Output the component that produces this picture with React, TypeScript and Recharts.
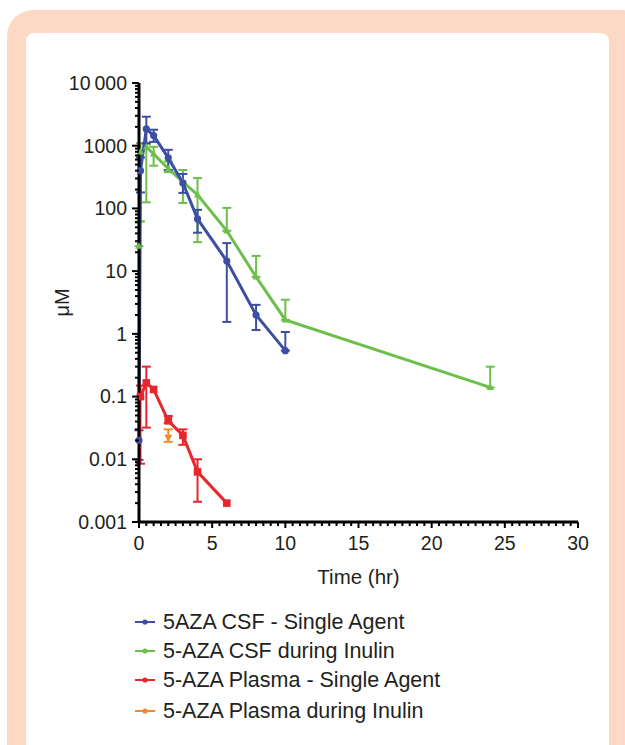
import React from 'react';
import { LineChart, Line, XAxis, YAxis, ErrorBar, Label } from 'recharts';

// time points (hr), values (µM), lower / upper error limits (null = no bar)
const blueT = [0, 0.1, 0.5, 1, 2, 3, 4, 6, 8, 10];
const blueY = [0.02, 400, 1850, 1450, 640, 255, 68, 14.5, 2.0, 0.54];
const blueLo = [0.0098, 180, 1100, 1150, 410, 177, 41, 1.55, 1.15, 0.54];
const blueHi = [0.029, 650, 2900, 1800, 860, 355, 95, 28, 2.9, 1.07];

const greenT = [0, 0.1, 0.5, 1, 2, 3, 4, 6, 8, 10, 24];
const greenY = [25, 800, 950, 740, 430, 265, 165, 44, 8.1, 1.67, 0.14];
const greenLo = [25, 62, 125, 480, 380, 122, 29, 44, 8.1, 1.67, 0.14];
const greenHi = [62, 1100, 1050, 960, 560, 410, 305, 102, 17.5, 3.5, 0.3];

const redT = [0.1, 0.5, 1, 2, 3, 4, 6];
const redY = [0.1, 0.165, 0.13, 0.041, 0.024, 0.0063, 0.002];
const redLo = [0.0085, 0.032, null, 0.038, 0.017, 0.0021, null];
const redHi = [0.15, 0.3, null, 0.049, 0.03, 0.01, null];

const orangeT = [2];
const orangeY = [0.022];
const orangeLo = [0.019];
const orangeHi = [0.03];

const xMajorTicks = [0, 5, 10, 15, 20, 25, 30];
const yMajorTicks = [0.001, 0.01, 0.1, 1, 10, 100, 1000, 10000];
const yTickLabels = ['0.001', '0.01', '0.1', '1', '10', '100', '1000', '10\u2009000'];

const seriesNames = [
  '5AZA CSF - Single Agent',
  '5-AZA CSF during Inulin',
  '5-AZA Plasma - Single Agent',
  '5-AZA Plasma during Inulin',
];

const BLUE = '#3d4fa3';
const GREEN = '#6dbf4b';
const RED = '#e8262b';
const ORANGE = '#f0892c';
const FONT = '"Liberation Sans", Arial, Helvetica, sans-serif';
const TEXT = '#231f20';

const build = (t: number[], y: number[], lo: (number | null)[], hi: (number | null)[]) =>
  t.map((tt, i) => ({
    t: tt,
    v: y[i],
    err: lo[i] == null || hi[i] == null ? null : [y[i] - (lo[i] as number), (hi[i] as number) - y[i]],
  }));

const blueData = build(blueT, blueY, blueLo, blueHi);
const greenData = build(greenT, greenY, greenLo, greenHi);
const redData = build(redT, redY, redLo, redHi);
const orangeData = build(orangeT, orangeY, orangeLo, orangeHi);

// minor ticks
const xTicks: number[] = [];
for (let i = 0; i <= 60; i++) xTicks.push(i / 2);
const yTicks: number[] = [];
yMajorTicks.forEach((m, k) => {
  yTicks.push(m);
  if (k < yMajorTicks.length - 1) for (let j = 2; j <= 9; j++) yTicks.push(m * j);
});

const isMajorY = (v: number) => {
  const l = Math.log10(v);
  return Math.abs(l - Math.round(l)) < 1e-9;
};

const YTick = ({ x, y, payload }: any) => {
  const v = payload.value;
  const major = isMajorY(v);
  const idx = major ? Math.round(Math.log10(v)) + 3 : -1;
  return (
    <g>
      <line x1={x} x2={x - (major ? 7 : 4)} y1={y} y2={y} stroke="#000" strokeWidth={2} />
      {major && (
        <text x={x - 12} y={y} dy="0.35em" textAnchor="end" fontSize={19.5} fontFamily={FONT} fill={TEXT}>
          {yTickLabels[idx]}
        </text>
      )}
    </g>
  );
};

const XTick = ({ x, y, payload }: any) => {
  const v = payload.value;
  const major = xMajorTicks.includes(v);
  return (
    <g>
      <line x1={x} x2={x} y1={y} y2={y + (major ? 6 : 4)} stroke="#000" strokeWidth={2} />
      {major && (
        <text x={x} y={y + 21} dy="0.35em" textAnchor="middle" fontSize={19.5} fontFamily={FONT} fill={TEXT}>
          {v}
        </text>
      )}
    </g>
  );
};

const Circle = (color: string) => (p: any) => (
  <circle key={p.key ?? p.index} cx={p.cx} cy={p.cy} r={3.6} fill={color} />
);
const TriUp = (color: string) => (p: any) => (
  <path key={p.key ?? p.index} d={`M${p.cx},${p.cy - 4}L${p.cx + 3.6},${p.cy + 2.6}L${p.cx - 3.6},${p.cy + 2.6}Z`} fill={color} />
);
const Square = (color: string) => (p: any) => (
  <rect key={p.key ?? p.index} x={p.cx - 3.8} y={p.cy - 3.8} width={7.6} height={7.6} fill={color} />
);
const TriDown = (color: string) => (p: any) => (
  <path key={p.key ?? p.index} d={`M${p.cx},${p.cy + 4}L${p.cx + 4},${p.cy - 3}L${p.cx - 4},${p.cy - 3}Z`} fill={color} />
);

const YLabel = ({ viewBox }: any) => {
  const cy = viewBox.y + viewBox.height / 2;
  return (
    <text
      x={62}
      y={cy}
      transform={`rotate(-90, 62, ${cy})`}
      textAnchor="middle"
      dy="0.35em"
      fontSize={20}
      fontFamily={FONT}
      fill={TEXT}
    >
      μM
    </text>
  );
};

const legendItems = [
  { name: seriesNames[0], color: BLUE, top: 609 },
  { name: seriesNames[1], color: GREEN, top: 638 },
  { name: seriesNames[2], color: RED, top: 667 },
  { name: seriesNames[3], color: ORANGE, top: 698 },
];

export default function App() {
  return (
    <div style={{ position: 'absolute', left: 0, top: 0, width: 625, height: 745, overflow: 'hidden', background: '#fff' }}>
      <div style={{ position: 'absolute', left: 7, top: 10, width: 640, height: 760, background: '#fdd9c5', borderRadius: 26 }} />
      <div style={{ position: 'absolute', left: 26, top: 33, width: 583, height: 740, background: '#fff', borderRadius: 8 }} />
      <div style={{ position: 'absolute', left: 0, top: 0 }}>
        <LineChart width={625} height={600} margin={{ top: 83, right: 47, bottom: 48, left: 79 }}>
          <XAxis
            type="number"
            dataKey="t"
            domain={[0, 30]}
            ticks={xTicks}
            interval={0}
            tick={<XTick />}
            tickLine={false}
            tickSize={0}
            tickMargin={0}
            height={30}
            axisLine={{ stroke: '#000', strokeWidth: 3 }}
          >
            <Label
              value="Time (hr)"
              position="insideBottom"
              offset={-32}
              style={{ fontSize: 20.5, fontFamily: FONT, fill: TEXT }}
            />
          </XAxis>
          <YAxis
            type="number"
            scale="log"
            domain={[0.001, 10000]}
            ticks={yTicks}
            interval={0}
            tick={<YTick />}
            tickLine={false}
            tickSize={0}
            tickMargin={0}
            width={60}
            axisLine={{ stroke: '#000', strokeWidth: 3 }}
            label={<YLabel />}
          />
          <Line data={greenData} dataKey="v" stroke={GREEN} strokeWidth={3} dot={TriUp(GREEN)} isAnimationActive={false}>
            <ErrorBar dataKey="err" width={4.5} strokeWidth={2} stroke={GREEN} direction="y" />
          </Line>
          <Line data={blueData} dataKey="v" stroke={BLUE} strokeWidth={3} dot={Circle(BLUE)} isAnimationActive={false}>
            <ErrorBar dataKey="err" width={4.5} strokeWidth={2} stroke={BLUE} direction="y" />
          </Line>
          <Line data={redData} dataKey="v" stroke={RED} strokeWidth={3} dot={Square(RED)} isAnimationActive={false}>
            <ErrorBar dataKey="err" width={4.5} strokeWidth={2} stroke={RED} direction="y" />
          </Line>
          <Line data={orangeData} dataKey="v" stroke={ORANGE} strokeWidth={3} dot={TriDown(ORANGE)} isAnimationActive={false}>
            <ErrorBar dataKey="err" width={4.5} strokeWidth={2} stroke={ORANGE} direction="y" />
          </Line>
        </LineChart>
      </div>
      {legendItems.map((it) => (
        <div
          key={it.name}
          style={{ position: 'absolute', left: 135, top: it.top, height: 26, display: 'flex', alignItems: 'center', fontFamily: FONT, fontSize: 21.5, color: TEXT }}
        >
          <svg width={20} height={10} style={{ marginRight: 8 }}>
            <line x1={0} x2={20} y1={5} y2={5} stroke={it.color} strokeWidth={2} />
            <circle cx={10} cy={5} r={2.6} fill={it.color} />
          </svg>
          <span>{it.name}</span>
        </div>
      ))}
    </div>
  );
}
